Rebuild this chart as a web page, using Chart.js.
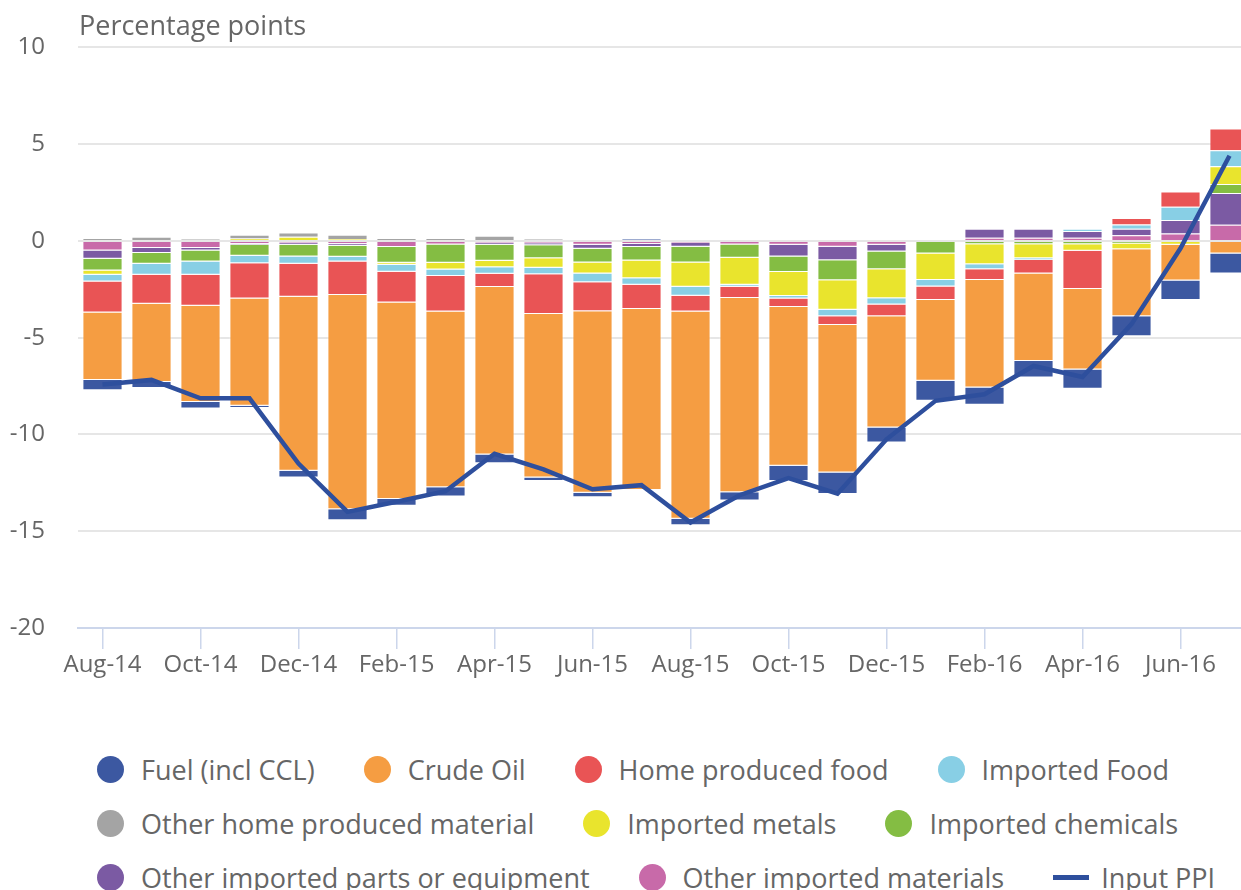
<!DOCTYPE html>
<html>
<head>
<meta charset="utf-8">
<script src="https://cdn.jsdelivr.net/npm/chart.js@4"></script>
<style>
  html, body { margin: 0; padding: 0; background: #fff; overflow: hidden; width: 1241px; height: 890px; }
  #chart { position: absolute; left: 0; top: 0; }
  #legend {
    position: absolute; left: 97px; top: 742px; width: 1125px;
    display: flex; flex-wrap: wrap; column-gap: 49px;
    font-family: "Open Sans", sans-serif; font-size: 27px; color: #666;
  }
  .item { display: flex; align-items: center; height: 54px; white-space: nowrap; }
  .dot { width: 27px; height: 27px; border-radius: 50%; margin-right: 17px; }
  .bar { width: 36px; height: 5px; margin-right: 12px; }
</style>
</head>
<body>
<canvas id="chart" width="1260" height="700"></canvas>
<div id="legend"></div>
<script>
const months = ["Aug-14", "Sep-14", "Oct-14", "Nov-14", "Dec-14", "Jan-15", "Feb-15", "Mar-15",
  "Apr-15", "May-15", "Jun-15", "Jul-15", "Aug-15", "Sep-15", "Oct-15", "Nov-15", "Dec-15",
  "Jan-16", "Feb-16", "Mar-16", "Apr-16", "May-16", "Jun-16", "Jul-16"];

// contributions, percentage points
const fuel = [-0.54, -0.31, -0.34, -0.12, -0.34, -0.56, -0.34, -0.48, -0.46, -0.18, -0.24, 0.1,
  -0.33, -0.43, -0.79, -1.11, -0.77, -1.03, -0.9, -0.86, -1.0, -1.03, -1.0, -1.03];
const crudeOil = [-3.48, -4.05, -4.97, -5.53, -8.99, -11.08, -10.16, -9.09, -8.65, -8.46, -9.38, -9.35,
  -10.72, -10.03, -8.2, -7.62, -5.75, -4.18, -5.55, -4.52, -4.16, -3.46, -1.85, -0.65];
const homeFood = [-1.61, -1.49, -1.6, -1.83, -1.71, -1.73, -1.59, -1.83, -0.68, -2.05, -1.49, -1.25,
  -0.81, -0.58, -0.44, -0.45, -0.6, -0.69, -0.56, -0.69, -1.97, 0.34, 0.8, 1.13];
const importedFood = [-0.34, -0.57, -0.69, -0.38, -0.38, -0.24, -0.36, -0.34, -0.34, -0.34, -0.46, -0.34,
  -0.46, -0.1, -0.12, -0.34, -0.33, -0.34, -0.26, -0.1, 0.12, 0.22, 0.68, 0.82];
const otherHome = [0.15, 0.22, 0.1, 0.2, 0.22, 0.22, 0.15, 0.15, 0.27, 0.1, 0.05, 0,
  0.05, 0, 0, 0.05, 0.05, 0, 0, 0, 0, 0, 0, 0];
const importedMetals = [-0.22, 0, 0, 0.12, 0.22, 0.1, -0.1, -0.34, -0.34, -0.48, -0.56, -0.92,
  -1.25, -1.4, -1.25, -1.52, -1.5, -1.37, -1.03, -0.72, -0.34, -0.3, -0.2, 0.92];
const importedChemicals = [-0.61, -0.56, -0.56, -0.57, -0.6, -0.57, -0.82, -0.94, -0.82, -0.68, -0.72, -0.7,
  -0.82, -0.68, -0.8, -1.03, -0.91, -0.65, -0.17, -0.17, -0.17, -0.13, 0, 0.46];
const otherParts = [-0.42, -0.26, -0.14, -0.05, -0.1, -0.1, 0, 0, -0.1, -0.1, -0.2, -0.16,
  -0.2, 0, -0.6, -0.7, -0.35, 0, 0.46, 0.46, 0.34, 0.34, 0.69, 1.64];
const otherMaterials = [-0.5, -0.36, -0.36, -0.15, -0.1, -0.15, -0.31, -0.19, -0.1, -0.12, -0.2, -0.15,
  -0.1, -0.19, -0.2, -0.3, -0.2, 0, 0.17, 0.17, 0.17, 0.29, 0.39, 0.84];
const inputPPI = [-7.42, -7.18, -8.13, -8.13, -11.5, -14.0, -13.48, -12.93, -11.0, -11.8, -12.83, -12.62,
  -14.55, -13.14, -12.25, -13.06, -10.25, -8.26, -7.92, -6.46, -7.03, -4.3, -0.38, 4.4];

const yTicks = { min: -20, max: 10, step: 5 };

// legend order; stacking goes the other way (last one sits next to zero)
const series = [
  { label: "Fuel (incl CCL)", data: fuel, color: "#3c58a1" },
  { label: "Crude Oil", data: crudeOil, color: "#f59d42" },
  { label: "Home produced food", data: homeFood, color: "#e95455" },
  { label: "Imported Food", data: importedFood, color: "#88cfe5" },
  { label: "Other home produced material", data: otherHome, color: "#a4a4a4" },
  { label: "Imported metals", data: importedMetals, color: "#e9e42d" },
  { label: "Imported chemicals", data: importedChemicals, color: "#84bd43" },
  { label: "Other imported parts or equipment", data: otherParts, color: "#7b5aa3" },
  { label: "Other imported materials", data: otherMaterials, color: "#c86aa9" }
];
const lineColor = "#2e4f9d";

Chart.defaults.font.family = '"Open Sans", sans-serif';
Chart.defaults.color = "#666";

const barSets = series.slice().reverse().map(s => ({
  type: "bar",
  label: s.label,
  data: s.data,
  backgroundColor: s.color,
  borderColor: "rgba(255,255,255,0.45)",
  borderWidth: 1,
  stack: "parts",
  categoryPercentage: 1,
  barPercentage: 0.82
}));

const titlePlugin = {
  id: "axisTitle",
  afterDraw(chart) {
    const ctx = chart.ctx;
    ctx.save();
    ctx.font = '27px "Open Sans", sans-serif';
    ctx.fillStyle = "#666";
    ctx.textBaseline = "middle";
    ctx.fillText("Percentage points", chart.chartArea.left + 1, 27);
    ctx.restore();
  }
};

new Chart(document.getElementById("chart"), {
  data: {
    labels: months,
    datasets: [
      {
        type: "line",
        label: "Input PPI",
        data: inputPPI,
        borderColor: lineColor,
        borderWidth: 4.5,
        pointRadius: 0,
        tension: 0,
        stack: "ppi",
        order: -1
      },
      ...barSets
    ]
  },
  options: {
    responsive: false,
    animation: false,
    layout: { padding: { top: 40, right: 6, left: 0, bottom: 0 } },
    plugins: { legend: { display: false }, tooltip: { enabled: false } },
    scales: {
      x: {
        stacked: true,
        offset: true,
        afterFit: (scale) => { scale.height = 72; },
        grid: { offset: false, drawOnChartArea: false, tickLength: 21, color: "#ccd6eb", lineWidth: 1.5 },
        border: { color: "#ccd6eb", width: 2 },
        ticks: {
          autoSkip: false,
          maxRotation: 0,
          padding: 2,
          font: { size: 24 },
          color: "#666",
          callback: (v, i) => (i % 2 ? null : months[i])
        }
      },
      y: {
        stacked: true,
        min: yTicks.min,
        max: yTicks.max,
        afterFit: (scale) => { scale.width = 78; },
        grid: { color: "#e6e6e6", lineWidth: 2, drawTicks: false },
        border: { display: false },
        ticks: { stepSize: yTicks.step, padding: 33, font: { size: 24 }, color: "#666" }
      }
    }
  },
  plugins: [titlePlugin]
});

// html legend
const legend = document.getElementById("legend");
series.forEach(s => {
  const item = document.createElement("div");
  item.className = "item";
  item.innerHTML = '<span class="dot" style="background:' + s.color + '"></span>' + s.label;
  legend.appendChild(item);
});
const ppiItem = document.createElement("div");
ppiItem.className = "item";
ppiItem.innerHTML = '<span class="bar" style="background:' + lineColor + '"></span>Input PPI';
legend.appendChild(ppiItem);
</script>
</body>
</html>
